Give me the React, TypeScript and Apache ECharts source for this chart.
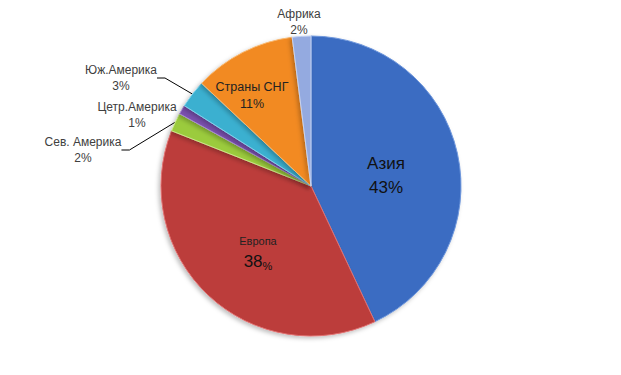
import React, { useEffect, useRef } from "react";
import * as echarts from "echarts";

const categories = ["Азия", "Европа", "Сев. Америка", "Цетр.Америка", "Юж.Америка", "Страны СНГ", "Африка"];
const values = [43, 38, 2, 1, 3, 11, 2];
const colors = ["#3a6cc2", "#bc3c3a", "#9bcb3d", "#7a50ae", "#3bb0d0", "#f28a22", "#94aae0"];
const borders = ["#6f97dc", "#e07070", "#c8e88a", "#a58ad0", "#7fd2ea", "#f8b870", "#c4d2f2"];
// label anchor positions (px) and whether drawn inside the slice
const labelPos: [number, number][] = [
  [386, 175],
  [258, 251],
  [83, 150],
  [137, 115],
  [121, 78],
  [252, 95],
  [299, 22],
];
const inside = [true, true, false, false, false, true, false];
const showLine = [false, false, true, false, true, false, false];

export default function App() {
  const ref = useRef<HTMLDivElement>(null);
  useEffect(() => {
    document.body.style.margin = "0";
    const chart = echarts.init(ref.current!, null, { renderer: "svg" });
    const font = "'Liberation Sans', Arial, sans-serif";
    const data = categories.map((name, i) => {
      let label: any;
      if (i === 0) {
        label = {
          formatter: "{a|{b}}\n{a|{c}%}",
          rich: { a: { fontSize: 17, lineHeight: 24, color: "#111", fontFamily: font } },
        };
      } else if (i === 1) {
        label = {
          formatter: "{n|{b}}\n{v|{c}}{p|%}",
          rich: {
            n: { fontSize: 11, lineHeight: 20, color: "#222", fontFamily: font },
            v: { fontSize: 17, lineHeight: 20, color: "#111", fontFamily: font },
            p: { fontSize: 11, lineHeight: 20, color: "#111", fontFamily: font, verticalAlign: "bottom" },
          },
        };
      } else if (inside[i]) {
        label = {
          formatter: "{a|{b}}\n{a|{c}%}",
          rich: { a: { fontSize: 12.5, lineHeight: 17, color: "#222", fontFamily: font } },
        };
      } else {
        label = {
          formatter: "{a|{b}}\n{a|{c}%}",
          rich: { a: { fontSize: 12, lineHeight: 16, color: "#404040", fontFamily: font } },
        };
      }
      return {
        name,
        value: values[i],
        itemStyle: { color: colors[i], borderColor: borders[i], borderWidth: 1 },
        label: { ...label, position: inside[i] ? "inside" : "outside", show: true },
        labelLine: { show: showLine[i], lineStyle: { color: "#000", width: 1 } },
      };
    });
    chart.setOption({
      animation: false,
      backgroundColor: "#fff",
      series: [
        {
          type: "pie",
          center: [311, 186],
          radius: 150,
          startAngle: 90,
          clockwise: true,
          data,
          itemStyle: {
            shadowBlur: 4,
            shadowColor: "rgba(0,0,0,0.25)",
            shadowOffsetX: -2,
            shadowOffsetY: 2,
          },
          labelLine: { length: 10, length2: 8 },
          labelLayout: (params: any) => {
            const p = labelPos[params.dataIndex];
            return { x: p[0], y: p[1], align: "center", verticalAlign: "middle" };
          },
        },
      ],
    });
    return () => chart.dispose();
  }, []);
  return <div ref={ref} style={{ width: 621, height: 375 }} />;
}
